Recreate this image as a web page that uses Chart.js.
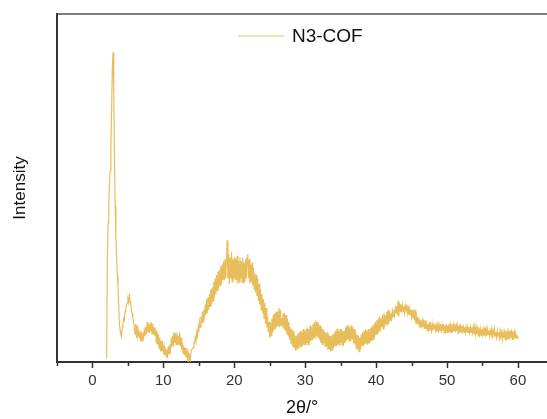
<!DOCTYPE html>
<html>
<head>
<meta charset="utf-8">
<title>N3-COF PXRD</title>
<script src="https://cdn.jsdelivr.net/npm/chart.js@4.4.0/dist/chart.umd.min.js"></script>
<style>
  html, body { margin: 0; padding: 0; background: #fff; }
  canvas { display: block; }
</style>
</head>
<body>
<canvas id="xrdChart" width="547" height="419"></canvas>
<script>
// scan grid (2θ, degrees)
const angleStart = 2.0;
const angleStep = 0.1;

// measured intensity, one row per degree (a.u.)
const intensity = [
  1, 30, 40, 46, 51, 55, 62, 72, 84, 89,
  78, 60, 45, 36, 30, 25, 22, 16, 11, 9,
  8, 7.5, 10, 11, 12.5, 12, 14.5, 15, 16.5, 17,
  18, 17, 19.5, 17.5, 16.5, 15, 14, 12.5, 11.5, 10,
  8, 11, 7, 10.5, 7.5, 8.5, 7, 9, 6, 8,
  6, 8.5, 6.5, 9, 7.5, 10, 8, 11.5, 8.5, 11,
  8.5, 11, 9, 11.5, 8, 11, 8, 10, 7.5, 9.5,
  5.5, 9, 5, 8, 4, 7, 3, 6, 3, 5,
  3, 4.5, 2, 4, 1.5, 3.5, 2, 4.5, 2.5, 5,
  3.5, 6, 4.5, 7.5, 4.5, 8.5, 5.5, 8, 5, 8.5,
  5, 7.5, 5, 8.5, 4.5, 7, 3.5, 5.5, 2.5, 4.5,
  2, 4, 1.5, 4, 1, 2.5, 0.5, 1.5, 0.5, 3,
  3, 4, 4, 5.5, 5.5, 7, 6, 8.5, 7.5, 10,
  8.5, 11.5, 10, 13, 11, 14.5, 11.5, 15, 12.5, 16.5,
  13.5, 18, 14, 18.5, 15, 19.5, 16, 21, 16.5, 21.5,
  17.5, 23, 18.5, 24, 19.5, 25, 20.5, 26, 21, 26.5,
  22, 27.5, 22.5, 28, 23.5, 29, 23.5, 29.5, 24, 30,
  35, 24, 31, 22.5, 30, 24, 31.5, 23, 29.5, 24,
  30, 23.5, 29.5, 23.5, 30.5, 22.5, 29, 23, 30, 24,
  29, 23, 30, 22.5, 28.5, 23, 29.5, 24, 30, 31,
  24, 29.5, 22.5, 28, 23, 28.5, 22, 27, 21, 25.5,
  20, 25, 19, 24, 17.5, 22.5, 16.5, 21, 15, 19.5,
  14, 18, 12.5, 17, 11, 15.5, 10, 13, 8.5, 11.5,
  7, 11.5, 7.5, 12.5, 8.5, 13.5, 9, 14, 9.5, 14.5,
  10, 14.5, 10.5, 15.5, 10, 15, 10.5, 12.5, 11, 14,
  9.5, 14, 9, 13.5, 8, 12.5, 7.5, 11.5, 6.5, 10,
  5.5, 9.5, 4.5, 9, 4, 8, 3.5, 7.5, 3.5, 8,
  4, 8.5, 4.5, 9, 4, 8.5, 4.5, 9.5, 5, 9,
  5, 9.5, 5.5, 10, 5, 9.5, 5.5, 10.5, 6, 10,
  6.5, 11, 7, 11.5, 7, 12, 7.5, 11.5, 7, 11,
  6.5, 10.5, 5.5, 10, 5, 9.5, 5.5, 9, 4.5, 8.5,
  4.5, 8.5, 3.5, 8, 3.5, 7.5, 3, 7.5, 3.5, 8,
  4, 8.5, 4.5, 9, 4.5, 9.5, 5, 9, 5, 9.5,
  5.5, 9.5, 5, 9, 4.5, 9, 5.5, 10, 6, 10.5,
  6.5, 10.5, 6, 10, 6, 10.5, 6.5, 10, 5.5, 9.5,
  5, 9, 4, 8, 3.5, 7.5, 3, 7, 3.5, 8,
  4.5, 8.5, 4.5, 9, 5, 9.5, 5.5, 9, 5, 9.5,
  5.5, 9.5, 6, 10, 6, 10.5, 6.5, 11, 7, 11.5,
  8, 12, 8, 12.5, 8.5, 13, 9, 12.5, 10, 13.5,
  9.5, 14, 10, 13.5, 11, 14.5, 10.5, 15, 11, 14.5,
  12, 14, 12.5, 14.5, 13, 15, 13.5, 15.5, 14, 16,
  13.5, 17.5, 13, 17, 14.5, 16.5, 15, 16.5, 14.5, 16,
  14, 16, 14.5, 16.5, 14, 15.5, 13.5, 16, 13.5, 15,
  13, 15, 12.5, 14, 12, 15, 11, 13, 11, 13,
  10.5, 12.5, 10, 12, 10.5, 12, 10, 11.5, 9.5, 12,
  9.5, 11, 9, 11, 9.5, 11.5, 9, 10.5, 9, 11,
  9, 10.5, 9.5, 11, 8.5, 10.5, 9, 11.5, 8.5, 10.5,
  9, 11, 8.5, 10.5, 9, 11, 8.5, 10.5, 9, 11,
  8.5, 10.5, 8.5, 11, 8.5, 10.5, 8.5, 11, 8.5, 10.5,
  9, 11, 8.5, 10.5, 9, 10.5, 8, 10.5, 8.5, 11,
  8.5, 10.5, 9, 10, 8.5, 10, 8.5, 10, 8.5, 10,
  8.5, 10, 8.5, 10, 8.5, 10, 8.5, 10, 8, 10,
  8, 10, 8, 9.5, 7.5, 10, 8, 9.5, 7.5, 9.5,
  8, 9.5, 7.5, 10, 8, 9.5, 7.5, 9.5, 8, 9,
  7.5, 9, 8, 9.5, 7.5, 9, 8, 9.5, 7.5, 8.5,
  7, 9, 7.5, 8.5, 7, 9, 7.5, 8.5, 6.5, 8.5,
  7, 8.5, 6.5, 9, 7, 8.5, 6.5, 8.5, 6.5, 9,
  7, 8.5, 6.5, 9, 6.5, 8.5, 7, 8, 7, 7.5,
  7
];

const xTickValues = [-5, 0, 5, 10, 15, 20, 25, 30, 35, 40, 45, 50, 55, 60];
const xTickLabels = ["", "0", "", "10", "", "20", "", "30", "", "40", "", "50", "", "60"];

const seriesName = "N3-COF";
const lineColor = "rgb(232, 190, 92)";
const axisColor = "#333";

const points = intensity.map((v, i) => ({
  x: +(angleStart + i * angleStep).toFixed(2),
  y: v
}));

// frame top edge, tick marks and the in-plot legend
const framePlugin = {
  id: "frame",
  afterDraw(chart) {
    const { ctx, chartArea, scales } = chart;
    const xs = scales.x;
    ctx.save();

    ctx.strokeStyle = "#555";
    ctx.lineWidth = 1.5;
    ctx.beginPath();
    ctx.moveTo(chartArea.left, chartArea.top);
    ctx.lineTo(chart.width, chartArea.top);
    ctx.stroke();

    ctx.strokeStyle = axisColor;
    ctx.lineWidth = 1.5;
    xTickValues.forEach((v, i) => {
      const px = Math.round(xs.getPixelForValue(v)) + 0.5;
      const len = xTickLabels[i] ? 6 : 4;
      ctx.beginPath();
      ctx.moveTo(px, chartArea.bottom);
      ctx.lineTo(px, chartArea.bottom + len);
      ctx.stroke();
    });

    const ly = 36;
    ctx.strokeStyle = lineColor;
    ctx.lineWidth = 1;
    ctx.beginPath();
    ctx.moveTo(238, ly);
    ctx.lineTo(284, ly);
    ctx.stroke();
    ctx.fillStyle = "#111";
    ctx.font = "19px 'Liberation Sans', Arial, sans-serif";
    ctx.textBaseline = "middle";
    ctx.fillText(seriesName, 292, ly + 1);

    ctx.restore();
  }
};

new Chart(document.getElementById("xrdChart"), {
  type: "line",
  data: {
    datasets: [{
      label: seriesName,
      data: points,
      borderColor: lineColor,
      borderWidth: 1.2,
      pointRadius: 0,
      tension: 0,
      fill: false
    }]
  },
  options: {
    responsive: false,
    animation: false,
    devicePixelRatio: 1,
    layout: { padding: { top: 14, right: 0, bottom: 0, left: 0 } },
    plugins: {
      legend: { display: false },
      tooltip: { enabled: false }
    },
    scales: {
      x: {
        type: "linear",
        min: -5,
        max: 64.1,
        afterBuildTicks: (scale) => {
          scale.ticks = xTickValues.map(v => ({ value: v }));
        },
        afterFit: (scale) => { scale.height = 57; },
        ticks: {
          autoSkip: false,
          maxRotation: 0,
          padding: 10,
          color: axisColor,
          font: { family: "'Liberation Sans', Arial, sans-serif", size: 15 },
          callback: (value, index) => xTickLabels[index]
        },
        grid: { display: false, drawTicks: false },
        border: { display: true, color: axisColor, width: 2 },
        title: {
          display: true,
          text: "2θ/°",
          color: "#111",
          padding: { top: 0, bottom: 0 },
          font: { family: "'Liberation Sans', Arial, sans-serif", size: 18 }
        }
      },
      y: {
        min: 0,
        max: 100,
        afterFit: (scale) => { scale.width = 57; },
        ticks: { display: false },
        grid: { display: false, drawTicks: false },
        border: { display: true, color: axisColor, width: 2 },
        title: {
          display: true,
          text: "Intensity",
          color: "#111",
          padding: { top: 10, bottom: 0 },
          font: { family: "'Liberation Sans', Arial, sans-serif", size: 17 }
        }
      }
    }
  },
  plugins: [framePlugin]
});
</script>
</body>
</html>
